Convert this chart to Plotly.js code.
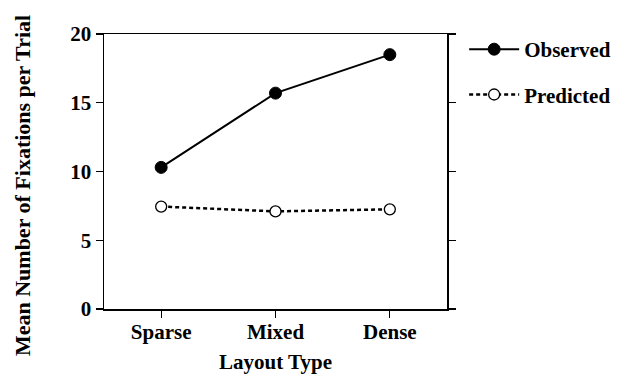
<!DOCTYPE html>
<html>
<head>
<meta charset="utf-8">
<script src="https://cdn.plot.ly/plotly-3.0.1.min.js"></script>
<style>html,body{margin:0;padding:0;background:#fff;}#chart{width:631px;height:375px;}</style>
</head>
<body>
<div id="chart"></div>
<script>
var categories = ["Sparse", "Mixed", "Dense"];
var observed = [10.3, 15.7, 18.5];
var predicted = [7.45, 7.1, 7.25];
var yTicks = [0, 5, 10, 15, 20];
var yTitle = "Mean Number of Fixations per Trial";
var xTitle = "Layout Type";

var F = "Liberation Serif, Times New Roman, serif";

var traces = [
  {
    x: categories, y: observed, name: "Observed", type: "scatter", mode: "lines+markers",
    legendgroup: "a",
    line: {color: "#000", width: 2},
    marker: {symbol: "circle", size: 12, color: "#000", line: {color: "#000", width: 1}}
  },
  {
    x: categories, y: predicted, name: "Predicted", type: "scatter", mode: "lines+markers",
    legendgroup: "b",
    line: {color: "#000", width: 2.5, dash: "4px,3px"},
    marker: {symbol: "circle", size: 11, color: "#fff", line: {color: "#000", width: 1.3}}
  }
];

var layout = {
  width: 631, height: 375,
  margin: {l: 104, r: 184, t: 34, b: 66},
  paper_bgcolor: "#fff", plot_bgcolor: "#fff",
  font: {family: F, color: "#000", size: 21, weight: "bold"},
  showlegend: true,
  legend: {
    x: 1.05, y: 1.018, xanchor: "left", yanchor: "top",
    font: {family: F, size: 21, color: "#000", weight: "bold"},
    traceorder: "grouped", tracegroupgap: 15, itemwidth: 50,
    bgcolor: "rgba(0,0,0,0)"
  },
  xaxis: {
    type: "category", range: [-0.5, 2.5],
    showgrid: false, zeroline: false,
    showline: true, linecolor: "#000", linewidth: 1.5, mirror: true,
    ticks: "outside", ticklen: 7, tickwidth: 1.3, tickcolor: "#000",
    ticklabelstandoff: -4,
    tickfont: {family: F, size: 21, color: "#000", weight: "bold"},
    title: {text: xTitle, font: {family: F, size: 21, color: "#000", weight: "bold"}, standoff: 11}
  },
  yaxis: {
    range: [0, 20], tickvals: yTicks, ticktext: yTicks.map(String),
    showgrid: false, zeroline: false,
    showline: true, linecolor: "#000", linewidth: 1.5, mirror: "ticks",
    ticks: "outside", ticklen: 7, tickwidth: 1.3, tickcolor: "#000",
    tickfont: {family: F, size: 21, color: "#000", weight: "bold"}
  },
  annotations: [{
    text: yTitle, xref: "paper", yref: "paper", x: 0, y: 0.447,
    xanchor: "center", yanchor: "middle", xshift: -82, textangle: -90, showarrow: false,
    font: {family: F, size: 22, color: "#000", weight: "bold"}
  }]
};

Plotly.newPlot("chart", traces, layout, {displayModeBar: false, staticPlot: true});
</script>
</body>
</html>
